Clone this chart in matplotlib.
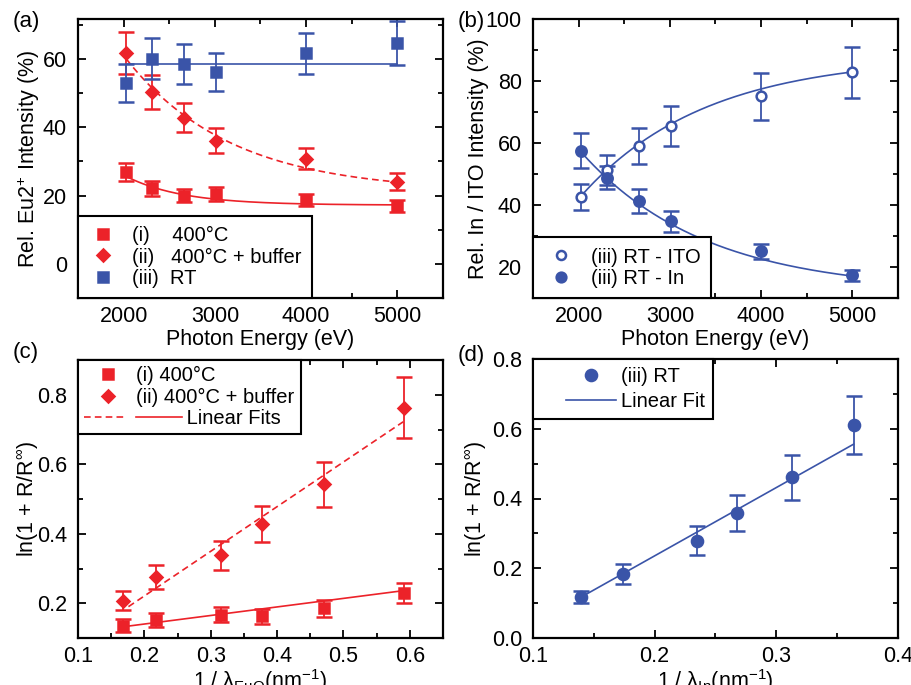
import numpy as np
import matplotlib
matplotlib.use("Agg")
import matplotlib.pyplot as plt
from matplotlib.lines import Line2D
from matplotlib.legend_handler import HandlerBase
from matplotlib.ticker import MultipleLocator

plt.rcParams['font.family'] = ['Liberation Sans', 'DejaVu Sans']
plt.rcParams['mathtext.default'] = 'regular'

RED = '#EC2229'
BLUE = '#3A54A8'

# ---------------- data ----------------
energy = [2030, 2310, 2660, 3010, 4000, 5000]

# (a) relative Eu2+ intensity (%)
eu_i = [26.8, 22.1, 20.0, 20.5, 18.7, 17.0]
eu_i_err = [2.6, 2.3, 2.0, 2.0, 1.8, 1.8]
eu_ii = [61.7, 50.2, 42.8, 36.1, 30.8, 24.1]
eu_ii_err = [6.2, 5.0, 4.3, 3.7, 3.0, 2.4]
eu_iii = [52.9, 60.0, 58.6, 56.2, 61.6, 64.6]
eu_iii_err = [5.6, 6.0, 5.9, 5.5, 6.1, 6.5]
# fit parameters: y = offset + amp * exp(-(E - 2000) / tau)
fit_i = (17.2, 8.8, 620.0)
fit_ii = (21.0, 40.0, 1150.0)
fit_iii_const = 58.5

# (b) relative In / ITO intensity (%)
ito = [42.5, 51.4, 58.9, 65.5, 75.1, 82.8]
ito_err = [4.2, 4.8, 5.8, 6.5, 7.6, 8.3]
indium = [57.5, 48.8, 41.3, 34.7, 25.1, 17.3]
indium_err = [5.7, 3.7, 4.0, 3.5, 2.4, 1.8]
# ITO fit: y = offset - amp * exp(-(E - 2000) / tau); In fit = 100 - ITO fit
fit_ito = (88.0, 46.0, 1360.0)

# (c) ln(1 + R/Rinf) vs 1/lambda_EuO
inv_lam_euo = [0.168, 0.218, 0.316, 0.378, 0.471, 0.591]
c_i = [0.135, 0.151, 0.167, 0.162, 0.185, 0.230]
c_i_err = [0.019, 0.020, 0.022, 0.021, 0.024, 0.029]
c_ii = [0.207, 0.276, 0.338, 0.428, 0.542, 0.763]
c_ii_err = [0.027, 0.035, 0.042, 0.053, 0.064, 0.087]
lin_i = (0.246, 0.091)     # slope, intercept
lin_ii = (1.285, -0.036)
lin_c_range = (0.176, 0.590)

# (d) ln(1 + R/Rinf) vs 1/lambda_In
inv_lam_in = [0.1393, 0.1741, 0.2345, 0.2680, 0.3127, 0.3635]
d_iii = [0.118, 0.183, 0.279, 0.358, 0.461, 0.611]
d_iii_err = [0.018, 0.028, 0.042, 0.052, 0.065, 0.084]
lin_iii = (1.958, -0.156)


# ---------------- helpers ----------------
class SegHandler(HandlerBase):
    def __init__(self, color, marker=None, mfc=None, ms=7, mfrac=0.5, segs=()):
        super().__init__()
        self.color = color
        self.marker = marker
        self.mfc = mfc if mfc is not None else color
        self.ms = ms
        self.mfrac = mfrac
        self.segs = segs

    def create_artists(self, legend, orig_handle, xdescent, ydescent,
                       width, height, fontsize, trans):
        y = (height - ydescent) / 2.0
        x0 = -xdescent
        arts = []
        for f0, f1, ls in self.segs:
            ln = Line2D([x0 + f0 * width, x0 + f1 * width], [y, y],
                        color=self.color, ls=ls, lw=1.2)
            ln.set_transform(trans)
            arts.append(ln)
        if self.marker:
            m = Line2D([x0 + self.mfrac * width], [y], marker=self.marker,
                       ls='none', color=self.color, mfc=self.mfc,
                       mec=self.color, ms=self.ms, mew=1.8)
            m.set_transform(trans)
            arts.append(m)
        return arts


def style_axes(ax):
    for s in ax.spines.values():
        s.set_linewidth(1.6)
    ax.tick_params(which='both', direction='in', top=True, right=True,
                   labelsize=15.5, width=1.3)
    ax.tick_params(which='major', length=6, pad=6)
    ax.tick_params(axis='y', which='major', pad=8)
    ax.tick_params(which='minor', length=3.5)


def ebar(ax, x, y, e, color, marker, ms, mfc=None):
    ax.errorbar(x, y, yerr=e, fmt=marker, color=color, ms=ms,
                mfc=mfc if mfc is not None else color, mec=color, mew=1.8,
                ecolor=color, elinewidth=1.3, capsize=6, capthick=1.3, zorder=3)


def make_legend(ax, entries, **kw):
    handles, labels, hmap = [], [], {}
    for lab, handler in entries:
        h = Line2D([], [])
        handles.append(h)
        labels.append(lab)
        hmap[h] = handler
    leg = ax.legend(handles, labels, handler_map=hmap, fancybox=False,
                    edgecolor='black', framealpha=1, fontsize=14.5, **kw)
    leg.get_frame().set_linewidth(1.5)
    return leg


fig = plt.figure(figsize=(9.12, 6.85), dpi=100)
W, H = 912.0, 685.0


def add_ax(l, r, t, b):
    return fig.add_axes([l / W, 1 - b / H, (r - l) / W, (b - t) / H])


ax_a = add_ax(78, 443, 19, 298)
ax_b = add_ax(533, 898, 19, 298)
ax_c = add_ax(78, 443, 360, 638)
ax_d = add_ax(533, 898, 359, 638)

# ---------------- (a) ----------------
ax = ax_a
E = np.array(energy, dtype=float)
Ef = np.linspace(E[0], E[-1], 300)
ax.plot(Ef, fit_i[0] + fit_i[1] * np.exp(-(Ef - 2000) / fit_i[2]), color=RED, lw=1.2)
ax.plot(Ef, fit_ii[0] + fit_ii[1] * np.exp(-(Ef - 2000) / fit_ii[2]), color=RED, lw=1.2,
        ls=(0, (4, 2.5)))
ax.plot([E[0], E[-1]], [fit_iii_const, fit_iii_const], color=BLUE, lw=1.2)
ebar(ax, energy, eu_i, eu_i_err, RED, 's', 7)
ebar(ax, energy, eu_ii, eu_ii_err, RED, 'D', 6.5)
ebar(ax, energy, eu_iii, eu_iii_err, BLUE, 's', 7)
ax.set_xlim(1500, 5500)
ax.set_ylim(-10, 71.7)
ax.xaxis.set_major_locator(MultipleLocator(1000))
ax.xaxis.set_minor_locator(MultipleLocator(500))
ax.yaxis.set_major_locator(MultipleLocator(20))
ax.yaxis.set_minor_locator(MultipleLocator(10))
style_axes(ax)
ax.set_xlabel('Photon Energy (eV)', fontsize=15.5, labelpad=1)
ax.set_ylabel('Rel. Eu2$^{+}$ Intensity (%)', fontsize=15.5)
ax.yaxis.set_label_coords(-0.099, 0.5)
make_legend(ax, [
    ('(i)    400°C', SegHandler(RED, 's', ms=7)),
    ('(ii)   400°C + buffer', SegHandler(RED, 'D', ms=6.5)),
    ('(iii)  RT', SegHandler(BLUE, 's', ms=7)),
], loc='lower left', borderaxespad=0, borderpad=0.5, handlelength=1.5,
    handletextpad=0.7, labelspacing=0.12)

# ---------------- (b) ----------------
ax = ax_b
ito_fit = fit_ito[0] - fit_ito[1] * np.exp(-(Ef - 2000) / fit_ito[2])
ax.plot(Ef, ito_fit, color=BLUE, lw=1.2)
ax.plot(Ef, 100 - ito_fit, color=BLUE, lw=1.2)
ebar(ax, energy, ito, ito_err, BLUE, 'o', 7, mfc='white')
ebar(ax, energy, indium, indium_err, BLUE, 'o', 7.5)
ax.set_xlim(1500, 5500)
ax.set_ylim(10, 100)
ax.xaxis.set_major_locator(MultipleLocator(1000))
ax.xaxis.set_minor_locator(MultipleLocator(500))
ax.yaxis.set_major_locator(MultipleLocator(20))
ax.yaxis.set_minor_locator(MultipleLocator(10))
style_axes(ax)
ax.set_xlabel('Photon Energy (eV)', fontsize=15.5, labelpad=1)
ax.set_ylabel('Rel. In / ITO Intensity (%)', fontsize=15.5)
ax.yaxis.set_label_coords(-0.121, 0.5)
make_legend(ax, [
    ('(iii) RT - ITO', SegHandler(BLUE, 'o', mfc='white', ms=6.5)),
    ('(iii) RT - In', SegHandler(BLUE, 'o', ms=7)),
], loc='lower left', borderaxespad=0, borderpad=0.5, handlelength=1.8,
    handletextpad=0.6, labelspacing=0.12)

# ---------------- (c) ----------------
ax = ax_c
xl = np.array(lin_c_range)
ax.plot(xl, lin_ii[0] * xl + lin_ii[1], color=RED, lw=1.2, ls=(0, (4, 2.5)))
ax.plot(xl, lin_i[0] * xl + lin_i[1], color=RED, lw=1.2)
ebar(ax, inv_lam_euo, c_i, c_i_err, RED, 's', 7)
ebar(ax, inv_lam_euo, c_ii, c_ii_err, RED, 'D', 6.5)
ax.set_xlim(0.1, 0.65)
ax.set_ylim(0.1, 0.9)
ax.xaxis.set_major_locator(MultipleLocator(0.1))
ax.xaxis.set_minor_locator(MultipleLocator(0.05))
ax.yaxis.set_major_locator(MultipleLocator(0.2))
ax.yaxis.set_minor_locator(MultipleLocator(0.1))
ax.set_xticks([0.1, 0.2, 0.3, 0.4, 0.5, 0.6])
ax.set_yticks([0.2, 0.4, 0.6, 0.8])
style_axes(ax)
ax.set_xlabel('1 / λ$_{EuO}$(nm$^{-1}$)', fontsize=15.5, labelpad=0)
ax.set_ylabel('ln(1 + R/R$^{\\infty}$)', fontsize=15.5)
ax.yaxis.set_label_coords(-0.10, 0.5)
make_legend(ax, [
    ('(i) 400°C', SegHandler(RED, 's', ms=7)),
    ('(ii) 400°C + buffer', SegHandler(RED, 'D', ms=6.5)),
    ('         Linear Fits', SegHandler(RED, segs=[(0.0, 0.88, (0, (4, 2.5))),
                                                   (1.08, 2.02, '-')])),
], loc='upper left', borderaxespad=0, borderpad=0.3, handlelength=2.4,
    handletextpad=0.2, labelspacing=0.12)

# ---------------- (d) ----------------
ax = ax_d
xd = np.array([inv_lam_in[0], inv_lam_in[-1]])
ax.plot(xd, lin_iii[0] * xd + lin_iii[1], color=BLUE, lw=1.2)
ebar(ax, inv_lam_in, d_iii, d_iii_err, BLUE, 'o', 8)
ax.set_xlim(0.1, 0.4)
ax.set_ylim(0.0, 0.8)
ax.xaxis.set_major_locator(MultipleLocator(0.1))
ax.xaxis.set_minor_locator(MultipleLocator(0.05))
ax.yaxis.set_major_locator(MultipleLocator(0.2))
ax.yaxis.set_minor_locator(MultipleLocator(0.1))
style_axes(ax)
ax.set_xlabel('1 / λ$_{In}$(nm$^{-1}$)', fontsize=15.5, labelpad=0)
ax.set_ylabel('ln(1 + R/R$^{\\infty}$)', fontsize=15.5)
ax.yaxis.set_label_coords(-0.121, 0.5)
make_legend(ax, [
    ('(iii) RT', SegHandler(BLUE, 'o', ms=8, mfrac=0.667)),
    ('Linear Fit', SegHandler(BLUE, segs=[(0.333, 1.0, '-')])),
], loc='upper left', borderaxespad=0, borderpad=0.4, handlelength=3.7,
    handletextpad=0.25, labelspacing=0.3)

# panel labels
for lab, x, y in [('(a)', 26, 22), ('(b)', 471, 22), ('(c)', 26, 353), ('(d)', 471, 355)]:
    fig.text(x / W, 1 - y / H, lab, fontsize=16, ha='center', va='center')

fig.savefig('out.png', dpi=100)
